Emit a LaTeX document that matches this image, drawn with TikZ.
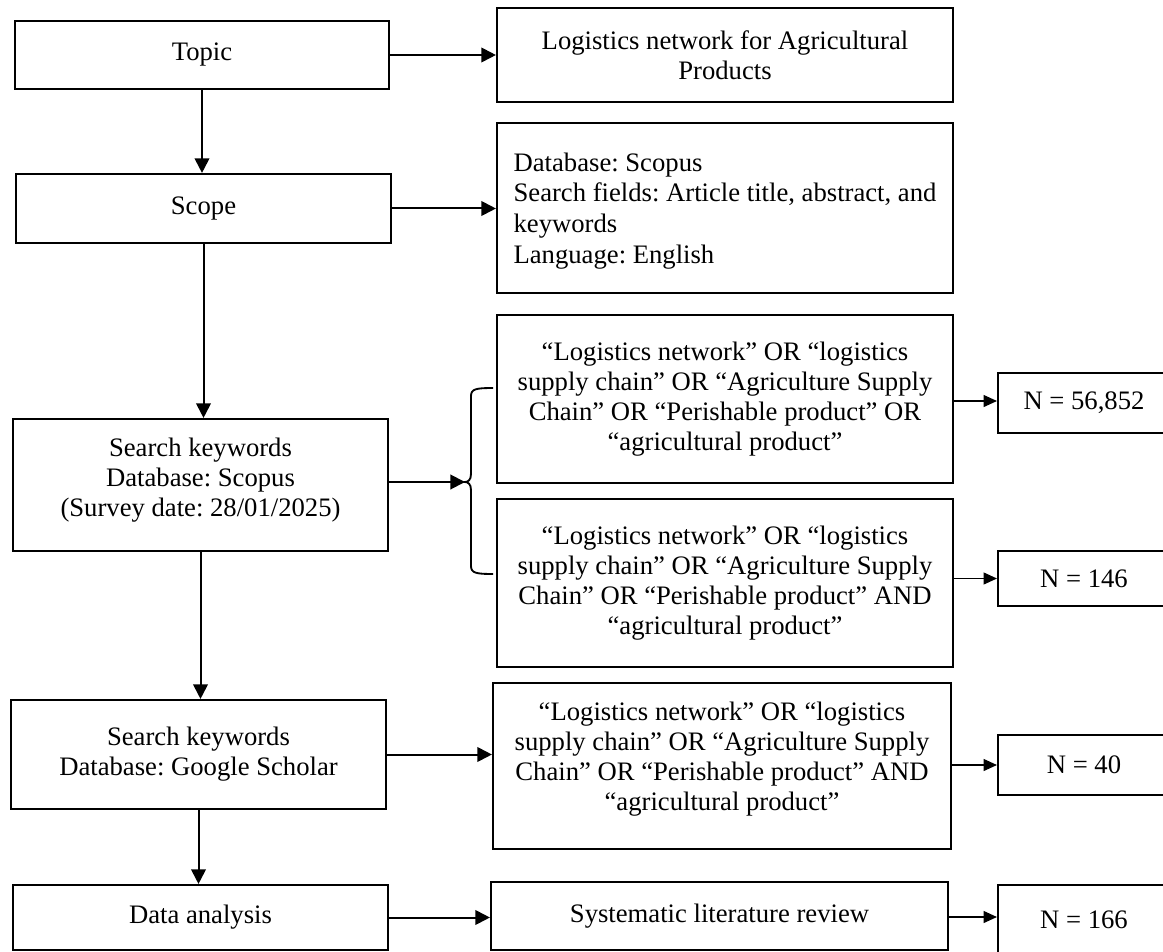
\documentclass[tikz,border=0pt]{standalone}
\usepackage{fontspec}
\setmainfont{Liberation Serif}
\usetikzlibrary{arrows.meta}
\frenchspacing

\tikzset{
  box/.style={draw, line width=1.6pt, align=center, inner sep=0pt, font=\fontsize{20}{22.6}\selectfont},
  arr/.style={line width=1.5pt, -{Triangle[length=11pt,width=11pt]}},
  thinarr/.style={line width=0.8pt, -{Triangle[length=10pt,width=9pt]}},
}

\begin{document}
\begin{tikzpicture}[x=0.75pt,y=0.75pt,yscale=-1,xscale=1]
\useasboundingbox (0,0) rectangle (1163,952);

%Left column
\node[box, minimum width=280.5pt, minimum height=51pt] (topic) at (202,55) {Topic};
\node[box, minimum width=281.25pt, minimum height=51.75pt] (scope) at (203.5,208.5) {Scope};
\node[box, minimum width=281.25pt, minimum height=99pt, text depth=12pt] (skscopus) at (200.5,485) {Search keywords\\Database: Scopus\\(Survey date: 28/01/2025)};
\node[box, minimum width=281.25pt, minimum height=81.75pt] (skgoogle) at (198.5,754.5) {Search keywords\\Database: Google Scholar};
\node[box, minimum width=281.25pt, minimum height=48.75pt] (data) at (200.5,917.5) {Data analysis};

%Middle column
\node[box, minimum width=342pt, minimum height=70.5pt] (logis) at (725,55) {Logistics network for Agricultural\\Products};
\node[box, align=left, minimum width=342pt, minimum height=127.5pt, text depth=0pt,
  font=\fontsize{20}{23.1}\selectfont] (db) at (725,208) {Database: Scopus\\Search fields: Article title, abstract, and\\keywords\\Language: English};
\node[box, minimum width=342pt, minimum height=126pt] (qor) at (725,399) {``Logistics network'' OR ``logistics\\supply chain'' OR ``Agriculture Supply\\Chain'' OR ``Perishable product'' OR\\``agricultural product''};
\node[box, minimum width=342pt, minimum height=126pt] (qand) at (725,583) {``Logistics network'' OR ``logistics\\supply chain'' OR ``Agriculture Supply\\Chain'' OR ``Perishable product'' AND\\``agricultural product''};
\node[box, minimum width=343.5pt, minimum height=124.5pt, text depth=15pt] (qgs) at (722,766) {``Logistics network'' OR ``logistics\\supply chain'' OR ``Agriculture Supply\\Chain'' OR ``Perishable product'' AND\\``agricultural product''};
\node[box, minimum width=342.75pt, minimum height=51pt] (slr) at (719.5,916) {Systematic literature review};

%Right column
\node[box, minimum width=129pt, minimum height=45pt] (nor) at (1084,403) {N = 56,852};
\node[box, minimum width=129pt, minimum height=41.25pt] (nand) at (1084,578.5) {N = 146};
\node[box, minimum width=129pt, minimum height=45pt] (ngs) at (1084,765) {N = 40};
\node[box, minimum width=129pt, minimum height=52.5pt] (nslr) at (1084,920) {N = 166};

%Brace
\coordinate (brace) at (465,482);
\draw[line width=1.4pt] (493,388) .. controls (476,388) and (471,389) .. (471,396) -- (471,474)
  .. controls (471,480) and (468,482) .. (brace) .. controls (468,482) and (471,484) .. (471,490)
  -- (471,566) .. controls (471,573) and (476,574) .. (493,574);

%Arrows
\draw[arr] (topic.east) -- (logis.west);
\draw[arr] (topic.south) -- (topic.south |- scope.north);
\draw[arr] (scope.east) -- (scope.east -| db.west);
\draw[arr] (scope.south) -- (scope.south |- skscopus.north);
\draw[arr] (skscopus.east |- brace) -- (brace);
\draw[arr] (skscopus.south) -- (skscopus.south |- skgoogle.north);
\draw[arr] (skgoogle.east) -- (skgoogle.east -| qgs.west);
\draw[arr] (skgoogle.south) -- (skgoogle.south |- data.north);
\draw[arr] (data.east) -- (data.east -| slr.west);
\draw[thinarr] (qor.east |- 0,401) -- (nor.west |- 0,401);
\draw[thinarr] (qand.east |- nand.west) -- (nand.west);
\draw[thinarr] (qgs.east |- ngs.west) -- (ngs.west);
\draw[thinarr] (slr.east |- 0,917) -- (nslr.west |- 0,917);
\end{tikzpicture}
\end{document}
